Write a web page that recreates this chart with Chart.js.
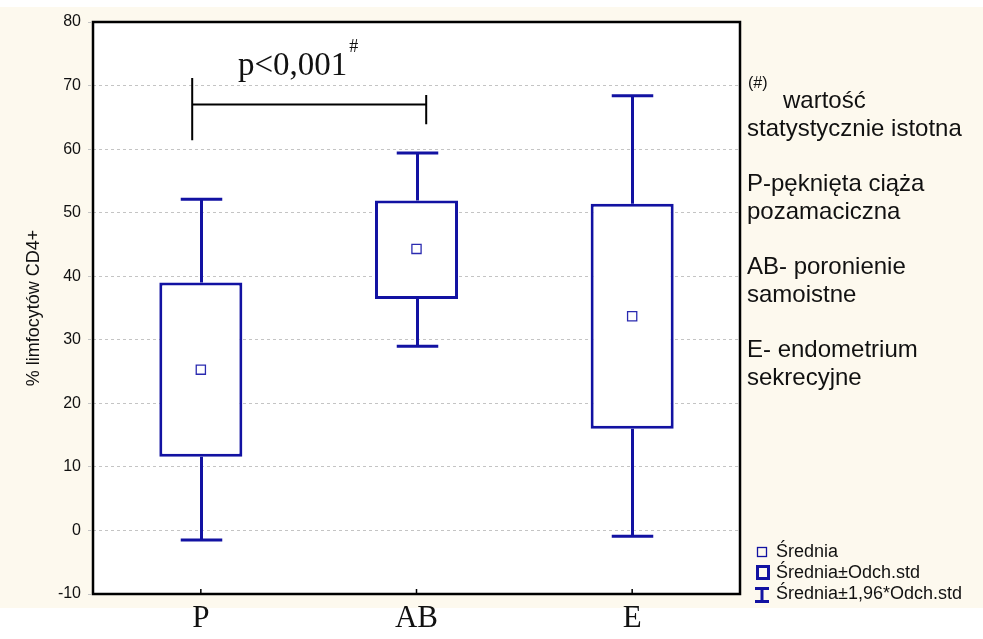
<!DOCTYPE html>
<html>
<head>
<meta charset="utf-8">
<script src="https://cdn.jsdelivr.net/npm/chart.js@4"></script>
<style>
  html, body { margin: 0; padding: 0; background: #ffffff; }
  #wrap { width: 983px; height: 639px; position: relative; }
</style>
</head>
<body>
<div id="wrap"><canvas id="c" width="983" height="639"></canvas></div>
<script>
// ---- data ----
const categories = ['P', 'AB', 'E'];
const means  = [25.3, 44.3, 33.7];
const sdLow  = [11.6, 36.4, 16.0];   // Średnia - Odch.std
const sdHigh = [39.0, 51.9, 51.4];   // Średnia + Odch.std
const ciLow  = [-1.5, 29.0, -0.9];   // Średnia - 1,96*Odch.std
const ciHigh = [52.1, 59.4, 68.4];   // Średnia + 1,96*Odch.std
const yTicks = [-10, 0, 10, 20, 30, 40, 50, 60, 70, 80];
const yTitle = '% limfocytów CD4+';
const pText = 'p<0,001';
const pSup = '#';
const bracketY = 67;        // data value of the significance bracket
const bracketLeftY = [61.4, 71.2];
const bracketRightY = [63.9, 68.5];
const notes = [
  ['wartość', 'statystycznie istotna'],
  ['P-pęknięta ciąża', 'pozamaciczna'],
  ['AB- poronienie', 'samoistne'],
  ['E- endometrium', 'sekrecyjne']
];
const legendLabels = ['Średnia', 'Średnia±Odch.std', 'Średnia±1,96*Odch.std'];

const BLUE = '#1212a2';
const SANS = "'Liberation Sans', Arial, Helvetica, sans-serif";
const SERIF = "'Liberation Serif', 'Times New Roman', serif";

const decorPlugin = {
  id: 'decor',
  beforeDraw(chart) {
    const ctx = chart.ctx, a = chart.chartArea;
    ctx.save();
    ctx.fillStyle = '#fdf9ee';
    ctx.fillRect(0, 7, chart.width, 601);
    ctx.fillStyle = '#ffffff';
    ctx.fillRect(a.left, a.top, a.right - a.left, a.bottom - a.top);
    ctx.restore();
  },
  beforeDatasetsDraw(chart) {
    // whiskers (mean ± 1.96 SD)
    const ctx = chart.ctx, x = chart.scales.x, y = chart.scales.y;
    const meta = chart.getDatasetMeta(0);
    ctx.save();
    ctx.strokeStyle = BLUE;
    ctx.lineWidth = 3;
    ctx.lineCap = 'butt';
    categories.forEach((c, i) => {
      const bar = meta.data[i];
      const cx = Math.round(x.getPixelForValue(i)) + 0.5;
      const half = bar.width / 4;
      const yTop = y.getPixelForValue(ciHigh[i]);
      const yBot = y.getPixelForValue(ciLow[i]);
      const yQ3 = y.getPixelForValue(sdHigh[i]);
      const yQ1 = y.getPixelForValue(sdLow[i]);
      ctx.beginPath();
      ctx.moveTo(cx, yQ3); ctx.lineTo(cx, yTop);
      ctx.moveTo(cx, yQ1); ctx.lineTo(cx, yBot);
      ctx.moveTo(cx - half, yTop); ctx.lineTo(cx + half, yTop);
      ctx.moveTo(cx - half, yBot); ctx.lineTo(cx + half, yBot);
      ctx.stroke();
    });
    ctx.restore();
  },
  afterDraw(chart) {
    const ctx = chart.ctx, a = chart.chartArea, x = chart.scales.x, y = chart.scales.y;
    ctx.save();
    // frame
    ctx.strokeStyle = '#000';
    ctx.lineWidth = 2.5;
    ctx.strokeRect(a.left, a.top, a.right - a.left, a.bottom - a.top);
    // x tick marks (inside)
    ctx.lineWidth = 1.5;
    categories.forEach((c, i) => {
      const px = x.getPixelForValue(i);
      ctx.beginPath(); ctx.moveTo(px, a.bottom - 5); ctx.lineTo(px, a.bottom); ctx.stroke();
    });
    // significance bracket
    const xl = x.getPixelForValue(-0.04);
    const xr = x.getPixelForValue(1.045);
    const yb = y.getPixelForValue(bracketY);
    ctx.lineWidth = 2;
    ctx.beginPath();
    ctx.moveTo(xl, y.getPixelForValue(bracketLeftY[0])); ctx.lineTo(xl, y.getPixelForValue(bracketLeftY[1]));
    ctx.moveTo(xl, yb); ctx.lineTo(xr, yb);
    ctx.moveTo(xr, y.getPixelForValue(bracketRightY[0])); ctx.lineTo(xr, y.getPixelForValue(bracketRightY[1]));
    ctx.stroke();
    ctx.fillStyle = '#111';
    ctx.textBaseline = 'alphabetic';
    ctx.textAlign = 'left';
    ctx.font = '33px ' + SERIF;
    ctx.fillText(pText, 238, 75);
    const pw = ctx.measureText(pText).width;
    ctx.font = '18px ' + SERIF;
    ctx.fillText(pSup, 238 + pw + 2, 52);
    // notes on the right
    ctx.font = '16px ' + SANS;
    ctx.fillText('(#)', 748, 88);
    ctx.font = '24px ' + SANS;
    const baseY = [108, 191, 274, 357];
    notes.forEach((pair, k) => {
      const x0 = k === 0 ? 783 : 747;
      ctx.fillText(pair[0], x0, baseY[k]);
      ctx.fillText(pair[1], 747, baseY[k] + 28);
    });
    // legend
    ctx.font = '18px ' + SANS;
    const lb = [557, 578, 599];
    legendLabels.forEach((t, k) => ctx.fillText(t, 776, lb[k]));
    ctx.strokeStyle = BLUE;
    ctx.lineWidth = 1.3;
    ctx.strokeRect(757.5, 547.5, 9, 9);
    ctx.lineWidth = 3;
    ctx.strokeRect(757.5, 566.5, 11, 12);
    ctx.beginPath();
    ctx.moveTo(755, 588.5); ctx.lineTo(769, 588.5);
    ctx.moveTo(762, 588.5); ctx.lineTo(762, 601.5);
    ctx.moveTo(755, 601.5); ctx.lineTo(769, 601.5);
    ctx.stroke();
    ctx.restore();
  }
};

new Chart(document.getElementById('c'), {
  data: {
    labels: categories,
    datasets: [
      {
        type: 'bar',
        label: 'Średnia±Odch.std',
        data: categories.map((c, i) => [sdLow[i], sdHigh[i]]),
        backgroundColor: '#ffffff',
        borderColor: BLUE,
        borderWidth: 3,
        borderSkipped: false,
        categoryPercentage: 1,
        barPercentage: 0.385,
        order: 2
      },
      {
        type: 'line',
        label: 'Średnia',
        data: means,
        showLine: false,
        pointStyle: 'rect',
        pointRadius: 6.5,
        pointBorderWidth: 1.3,
        pointBorderColor: '#2a2ab0',
        pointBackgroundColor: '#ffffff',
        order: 1
      }
    ]
  },
  options: {
    responsive: false,
    animation: false,
    events: [],
    layout: { padding: { left: 0, top: 22, right: 243, bottom: 0 } },
    plugins: { legend: { display: false }, tooltip: { enabled: false } },
    scales: {
      x: {
        type: 'category',
        offset: true,
        border: { display: false },
        grid: { display: false, drawTicks: false },
        ticks: { padding: 6, color: '#111', font: { family: SERIF, size: 31 } },
        afterFit(s) { s.height = 45; }
      },
      y: {
        type: 'linear',
        min: -10, max: 80,
        border: { display: false, dash: [3, 3] },
        afterBuildTicks(s) { s.ticks = yTicks.map(v => ({ value: v })); },
        grid: {
          color: '#c4c4c4',
          lineWidth: 1,
          tickLength: 5,
          tickBorderDash: [3, 3]
        },
        ticks: { padding: 7, color: '#111', font: { family: SANS, size: 16 } },
        title: {
          display: true,
          text: yTitle,
          color: '#111',
          font: { family: SANS, size: 18 },
          padding: { top: 23, bottom: 0 }
        },
        afterFit(s) { s.width = 93; }
      }
    }
  },
  plugins: [decorPlugin]
});
</script>
</body>
</html>
